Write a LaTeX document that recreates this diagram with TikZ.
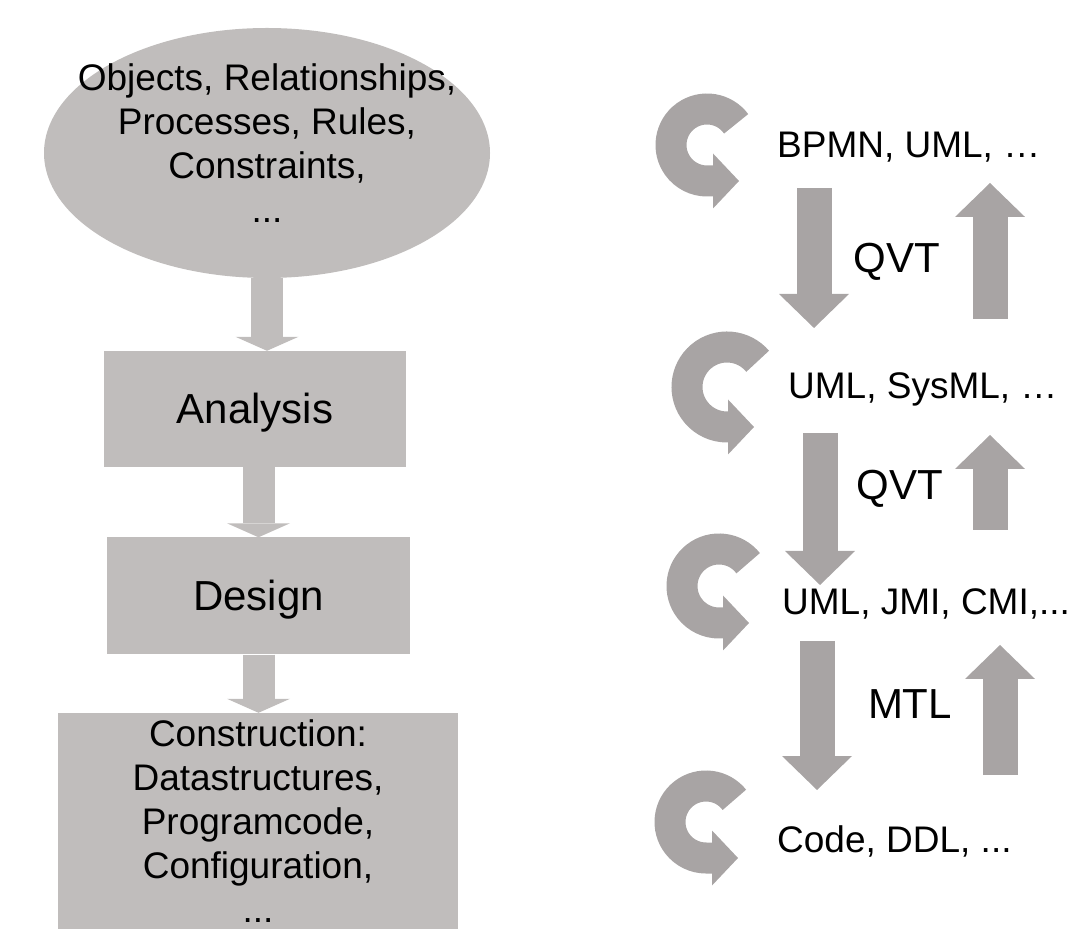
\documentclass[tikz,border=0pt]{standalone}
\usepackage{fontspec}
\setmainfont{Liberation Sans}
\usetikzlibrary{arrows.meta,shapes.geometric}
\definecolor{boxgray}{RGB}{192,189,188}
\definecolor{arrowgray}{RGB}{168,164,164}
\tikzset{
  StageStyle/.style = { rectangle, fill = boxgray, inner sep = 0pt },
  OneLine/.style = { text height = 30pt, text depth = 0pt,
                     font = \fontsize{42}{50}\selectfont },
  TextStyle/.style = { align = center, inner sep = 0pt,
                       font = \fontsize{37}{44}\selectfont },
  FlowStyle/.style = { line width = 32pt, boxgray,
                       -{Triangle[width = 63pt, length = 14pt, line width = 0pt]} },
  MapStyle/.style = { line width = 35pt, arrowgray,
                      -{Triangle[width = 70pt, length = 34pt, line width = 0pt]} },
  LoopStyle/.style = { line width = 31pt, arrowgray,
                       -{Triangle[width = 55pt, length = 26pt, line width = 0pt]} } }

\begin{document}
\begin{tikzpicture}[x=1pt,y=1pt]
  \useasboundingbox (0,0) rectangle (1070,929);

  \node[ellipse, fill = boxgray, inner sep = 0pt,
        minimum width = 446pt, minimum height = 250pt] (obj) at (267,776) {};
  \node[TextStyle] (objtext) at (267,786)
    {Objects, Relationships,\\Processes, Rules,\\Constraints,\\...};

  \node[StageStyle, OneLine, minimum width = 302pt, minimum height = 116pt]
    (ana) at (255,520) {Analysis};
  \node[StageStyle, OneLine, minimum width = 303pt, minimum height = 117pt]
    (des) at (258.5,333) {Design};
  \node[StageStyle, TextStyle, fill = boxgray, minimum width = 400pt, minimum height = 216pt]
    (con) at (258,108)
    {Construction:\\Datastructures,\\Programcode,\\Configuration,\\...};

  \draw[FlowStyle] (obj.south) -- (obj.south |- ana.north);
  \draw[FlowStyle] (des.north |- ana.south) -- (des.north);
  \draw[FlowStyle] (des.south) -- (des.south |- con.north);

  \tikzset{TextStyle/.append style = {anchor = base west}}
  \node[TextStyle] (m1) at (777,771) {BPMN, UML, …};
  \node[TextStyle] (m2) at (788,530) {UML, SysML, …};
  \node[TextStyle] (m3) at (782,314) {UML, JMI, CMI,...};
  \node[TextStyle] (m4) at (777,77) {Code, DDL, ...};

  \coordinate (r1) at (707,784);
  \coordinate (r2) at (727,542);
  \coordinate (r3) at (719,343);
  \coordinate (r4) at (706,107);

  \draw[LoopStyle] (r1) ++(36:36) arc[start angle = 36, end angle = 270, radius = 36] -- ++(32,0);
  \draw[LoopStyle] (r2) ++(40:40) arc[start angle = 40, end angle = 270, radius = 40] -- ++(27,0);
  \draw[LoopStyle] (r3) ++(38:37) arc[start angle = 38, end angle = 270, radius = 37] -- ++(30,0);
  \draw[LoopStyle] (r4) ++(38:36) arc[start angle = 38, end angle = 270, radius = 36] -- ++(32,0);

  \coordinate (d1) at (814,741);  \coordinate (d1e) at (814,601);
  \coordinate (d2) at (820,496);  \coordinate (d2e) at (820,344);
  \coordinate (d3) at (817,288);  \coordinate (d3e) at (817,139);
  \coordinate (u1) at (990,610);  \coordinate (u1e) at (990,746);
  \coordinate (u2) at (990,399);  \coordinate (u2e) at (990,494);
  \coordinate (u3) at (1000,154); \coordinate (u3e) at (1000,284);

  \draw[MapStyle] (d1) -- (d1e);
  \draw[MapStyle] (d2) -- (d2e);
  \draw[MapStyle] (d3) -- (d3e);
  \draw[MapStyle] (u1) -- (u1e);
  \draw[MapStyle] (u2) -- (u2e);
  \draw[MapStyle] (u3) -- (u3e);

  \tikzset{TextStyle/.append style = {anchor = base, font = \fontsize{42}{50}\selectfont}}
  \node[TextStyle] (t1) at (897,656) {QVT};
  \node[TextStyle] (t2) at (900,429) {QVT};
  \node[TextStyle] (t3) at (910,211) {MTL};
\end{tikzpicture}
\end{document}
